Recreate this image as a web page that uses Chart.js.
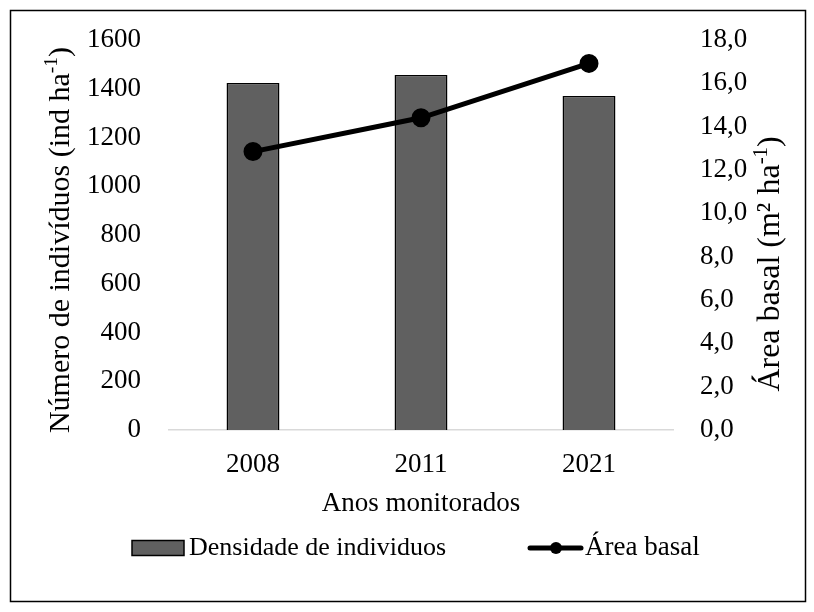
<!DOCTYPE html>
<html>
<head>
<meta charset="utf-8">
<script src="https://cdn.jsdelivr.net/npm/chart.js@4"></script>
<style>
  body { margin: 0; background: #fff; }
</style>
</head>
<body>
<canvas id="grafico" width="814" height="612"></canvas>
<script>
const anos = ['2008', '2011', '2021'];
const densidade = [1424, 1456, 1370];
const areaBasal = [12.85, 14.41, 16.92];

const nomeBarras = 'Densidade de individuos';
const nomeLinha = 'Área basal';
const tituloX = 'Anos monitorados';
// [texto, sobrescrito?]
const tituloEsq = [['Número de indivíduos (ind ha', false], ['-1', true], [')', false]];
const tituloDir = [['Área basal (m² ha', false], ['-1', true], [')', false]];

const fonte = '"Liberation Serif", "Times New Roman", serif';
const tam = 27;

function virgula(v) {
  return v.toFixed(1).replace('.', ',');
}

// draws a title with a superscript part, centered at cx, cy
function textoRico(ctx, partes, cx, cy, angulo, t) {
  ctx.save();
  ctx.translate(cx, cy);
  ctx.rotate(angulo);
  ctx.fillStyle = '#000';
  ctx.textBaseline = 'middle';
  ctx.textAlign = 'left';
  let total = 0;
  partes.forEach(function(p) {
    ctx.font = (p[1] ? t * 0.65 : t) + 'px ' + fonte;
    total += ctx.measureText(p[0]).width;
  });
  let x = -total / 2;
  partes.forEach(function(p) {
    ctx.font = (p[1] ? t * 0.65 : t) + 'px ' + fonte;
    ctx.fillText(p[0], x, p[1] ? -t * 0.3 : 0);
    x += ctx.measureText(p[0]).width;
  });
  ctx.restore();
}

const extras = {
  id: 'extras',
  beforeDraw(chart) {
    const ctx = chart.ctx;
    ctx.save();
    ctx.fillStyle = '#fff';
    ctx.fillRect(0, 0, chart.width, chart.height);
    ctx.restore();
  },
  afterDraw(chart) {
    const ctx = chart.ctx;
    textoRico(ctx, tituloEsq, 61, 240, -Math.PI / 2, 30);
    textoRico(ctx, tituloDir, 771, 264, -Math.PI / 2, 32);

    // legend
    const barras = chart.data.datasets[1];
    const linha = chart.data.datasets[0];
    const ly = 548;
    ctx.save();
    ctx.fillStyle = barras.backgroundColor;
    ctx.strokeStyle = barras.borderColor;
    ctx.lineWidth = 1.5;
    ctx.fillRect(132, ly - 7.5, 52, 15);
    ctx.strokeRect(132, ly - 7.5, 52, 15);

    ctx.strokeStyle = linha.borderColor;
    ctx.lineWidth = linha.borderWidth;
    ctx.lineCap = 'round';
    ctx.beginPath();
    ctx.moveTo(530, ly);
    ctx.lineTo(581, ly);
    ctx.stroke();
    ctx.fillStyle = linha.pointBackgroundColor;
    ctx.beginPath();
    ctx.arc(556, ly, 6, 0, Math.PI * 2);
    ctx.fill();

    ctx.fillStyle = '#000';
    ctx.font = '26px ' + fonte;
    ctx.textBaseline = 'middle';
    ctx.textAlign = 'left';
    ctx.fillText(barras.label, 189, ly);
    ctx.font = '27px ' + fonte;
    ctx.fillText(linha.label, 585, ly);

    // outer frame
    ctx.strokeStyle = '#000';
    ctx.lineWidth = 1.5;
    ctx.strokeRect(10.5, 10.5, 795, 591);
    ctx.restore();
  }
};

const canvas = document.getElementById('grafico');

new Chart(canvas, {
  data: {
    labels: anos,
    datasets: [
      {
        type: 'line',
        label: nomeLinha,
        data: areaBasal,
        yAxisID: 'yDir',
        borderColor: '#000',
        borderWidth: 5,
        pointBackgroundColor: '#000',
        pointBorderColor: '#000',
        pointRadius: 7,
        tension: 0,
        order: 0
      },
      {
        type: 'bar',
        label: nomeBarras,
        data: densidade,
        yAxisID: 'yEsq',
        backgroundColor: '#606060',
        borderColor: '#000',
        borderWidth: 1.5,
        categoryPercentage: 1,
        barPercentage: 0.315,
        order: 1
      }
    ]
  },
  options: {
    responsive: false,
    animation: false,
    devicePixelRatio: 1,
    layout: { padding: { top: 40, bottom: 88, left: 0, right: 0 } },
    plugins: {
      legend: { display: false },
      tooltip: { enabled: false }
    },
    scales: {
      x: {
        offset: true,
        grid: { display: false },
        border: { color: '#d9d9d9', width: 1.5 },
        ticks: { color: '#000', font: { family: fonte, size: tam }, padding: 11 },
        title: {
          display: true,
          text: tituloX,
          color: '#000',
          font: { family: fonte, size: tam },
          padding: { top: 10, bottom: 4 }
        },
        afterFit: function(scale) { scale.height = 94; }
      },
      yEsq: {
        position: 'left',
        min: 0,
        max: 1600,
        grid: { display: false },
        border: { display: false },
        ticks: {
          stepSize: 200,
          color: '#000',
          font: { family: fonte, size: tam },
          padding: 20,
          callback: function(v) { return String(v); }
        },
        afterFit: function(scale) { scale.width = 169; }
      },
      yDir: {
        position: 'right',
        min: 0,
        max: 18,
        grid: { display: false },
        border: { display: false },
        ticks: {
          stepSize: 2,
          color: '#000',
          font: { family: fonte, size: tam },
          padding: 19,
          callback: function(v) { return virgula(v); }
        },
        afterFit: function(scale) { scale.width = 141; }
      }
    }
  },
  plugins: [extras]
});
</script>
</body>
</html>
